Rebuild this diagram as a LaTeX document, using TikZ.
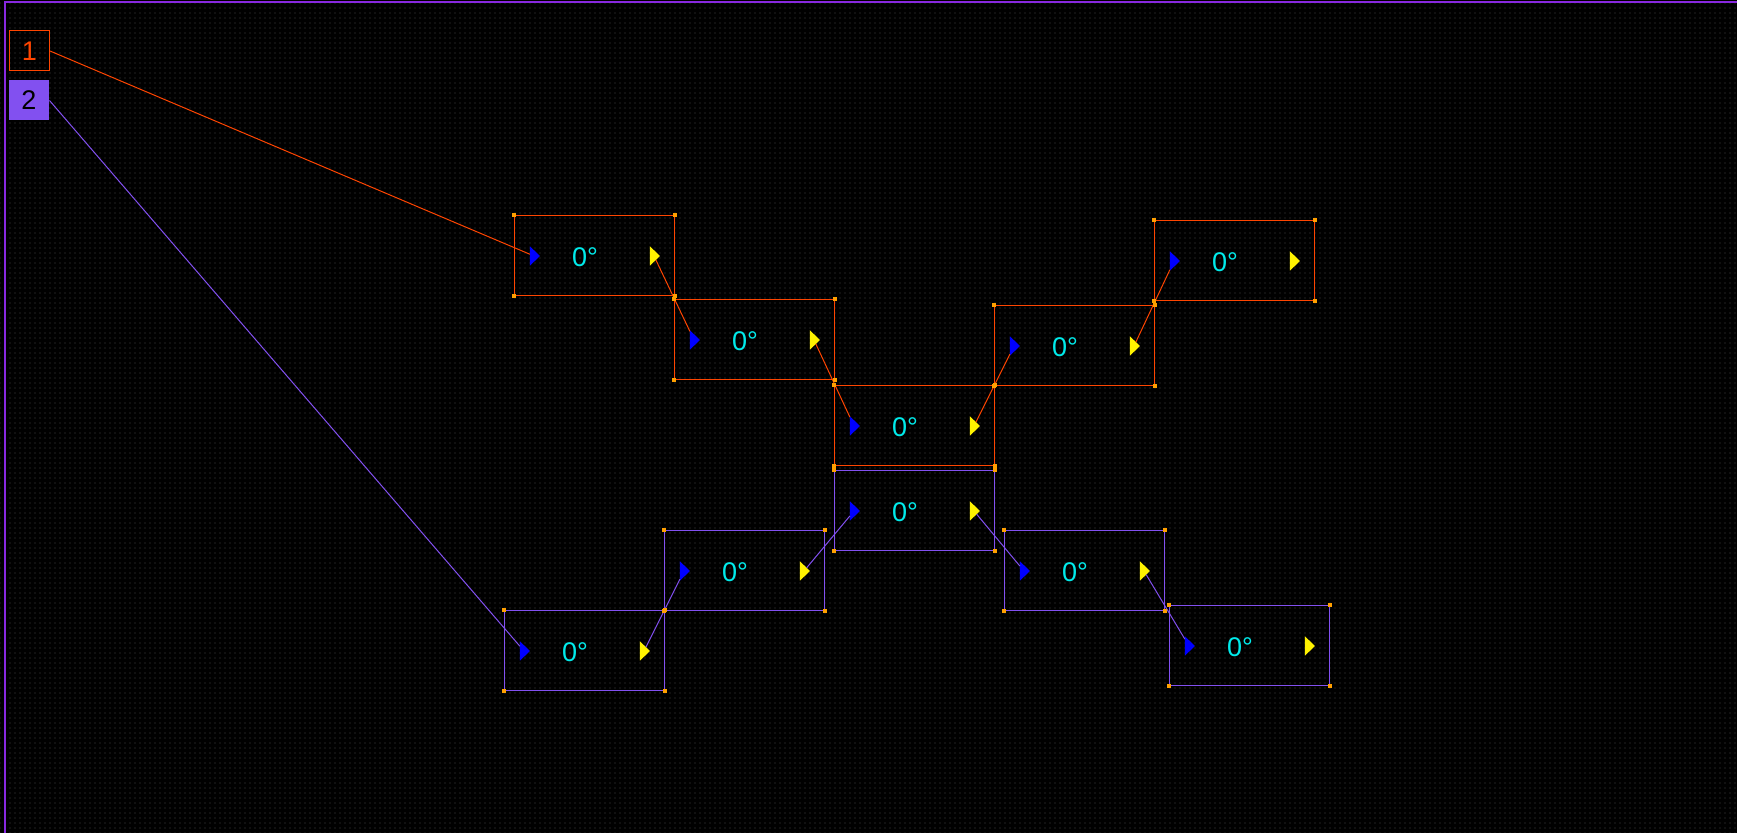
\documentclass[tikz,border=0pt]{standalone}
\usepackage{fontspec}
\setmainfont{Liberation Sans}
\usetikzlibrary{shapes.geometric, patterns.meta}

\definecolor{orangeline}{RGB}{255,69,0}
\definecolor{violetline}{RGB}{130,80,240}
\definecolor{bordercol}{RGB}{136,40,224}
\definecolor{handlecol}{RGB}{255,160,0}
\definecolor{phasecyan}{RGB}{0,235,235}
\definecolor{gridgray}{RGB}{72,72,72}

\begin{document}
\begin{tikzpicture}[x=0.5pt, y=-0.5pt,
    phasebox/.style={rectangle, draw, line width=0.5pt, minimum width=80pt, minimum height=40pt, inner sep=0pt},
    portin/.style={isosceles triangle, isosceles triangle stretches, fill=blue, minimum width=9.75pt, minimum height=5pt, inner sep=0pt, outer sep=0pt},
    portout/.style={portin, fill=yellow},
    phasetext/.style={text=phasecyan, inner sep=0pt, font=\fontsize{13.5}{16}\selectfont},
    tag/.style={rectangle, minimum size=20pt, inner sep=0pt, line width=0.5pt, font=\fontsize{13.5}{16}\selectfont},
    wire/.style={line width=0.5pt}]
    \useasboundingbox (0,0) rectangle (1737,833);

    % Le fond noir et la grille
    \fill[black] (0,0) rectangle (1737,833);
    \fill[pattern={Dots[distance=2.5pt, radius=0.3pt]}, pattern color=gridgray] (0,0) rectangle (1737,833);

    % Le cadre
    \draw[bordercol, line width=1pt] (5,833) -- (5,2) -- (1737,2);

    % Les etiquettes 1 et 2
    \node[tag, draw=orangeline, text=orangeline] (lab1) at (29.5,51) {1};
    \node[tag, fill=violetline, text=black] (lab2) at (29,100.5) {2};

    % Les blocs (nom/x/y/couleur)
    \foreach \n/\x/\y/\c in {o1/594/256/orangeline, o2/754/340/orangeline, o3/914/426/orangeline,
        o4/1074/346/orangeline, o5/1234/261/orangeline,
        p1/584/651/violetline, p2/744/571/violetline, p3/914/511/violetline,
        p4/1084/571/violetline, p5/1249/646/violetline}{
        \node[phasebox, draw=\c] (\n) at (\x,\y) {};
        \node[portin] (\n-in) at (\x-60,\y) {};
        \node[portout] (\n-out) at (\x+60,\y) {};
        \node[phasetext] (\n-txt) at (\x-9,\y+1) {0°};
    }

    % Chaine orange
    \draw[wire, orangeline] (lab1.east) -- (o1-in);
    \draw[wire, orangeline] (o1-out) -- (o2-in);
    \draw[wire, orangeline] (o2-out) -- (o3-in);
    \draw[wire, orangeline] (o3-out) -- (o4-in);
    \draw[wire, orangeline] (o4-out) -- (o5-in);

    % Chaine violette
    \draw[wire, violetline] (lab2.east) -- (p1-in);
    \draw[wire, violetline] (p1-out) -- (p2-in);
    \draw[wire, violetline] (p2-out) -- (p3-in);
    \draw[wire, violetline] (p3-out) -- (p4-in);
    \draw[wire, violetline] (p4-out) -- (p5-in);

    % Les poignees aux coins
    \foreach \n in {o1,o2,o3,o4,o5,p1,p2,p3,p4,p5}
        \foreach \a in {north west, north east, south west, south east}
            \fill[handlecol] (\n.\a) ++(-1pt,-1pt) rectangle ++(2pt,2pt);
\end{tikzpicture}
\end{document}
